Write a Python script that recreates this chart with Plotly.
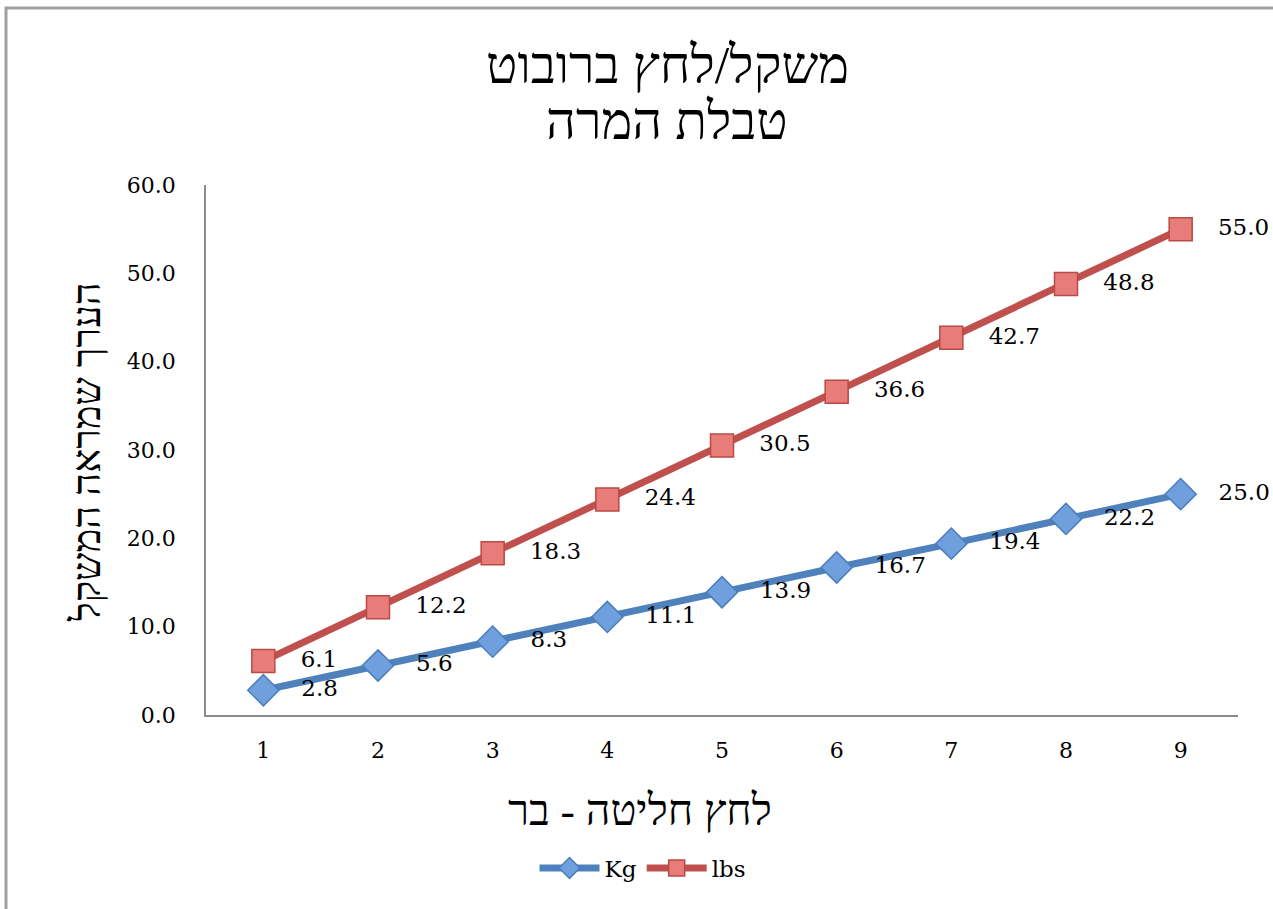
import plotly.graph_objects as go

categories = ["1", "2", "3", "4", "5", "6", "7", "8", "9"]
kg_values = [2.8, 5.6, 8.3, 11.1, 13.9, 16.7, 19.4, 22.2, 25.0]
lbs_values = [6.1, 12.2, 18.3, 24.4, 30.5, 36.6, 42.7, 48.8, 55.0]
y_ticks = [0, 10, 20, 30, 40, 50, 60]

title_line1 = "משקל/לחץ ברובוט"
title_line2 = "טבלת המרה"
x_title = "לחץ חליטה - בר"
y_title = "הערך שמראה המשקל"

NUM_FONT = "DejaVu Serif, Liberation Serif, serif"
HEB_FONT = "Liberation Serif, DejaVu Serif, serif"
W, H = 1273, 909
L, R, T, B = 206, 35, 185, 194
pw, ph = W - L - R, H - T - B

def px_x(x):
    return (x - L) / pw

def px_y(y):
    return (H - B - y) / ph

fig = go.Figure()
fig.add_trace(go.Scatter(
    x=categories, y=kg_values, name="Kg", mode="lines+markers+text",
    line=dict(color="#4F81BD", width=7),
    marker=dict(symbol="diamond", size=24, color="#6F9FDD",
                line=dict(color="#4A7EBB", width=1.5)),
    text=[f"   {v:.1f}" for v in kg_values], textposition="middle right",
    textfont=dict(family=NUM_FONT, size=23, color="#000000"),
    cliponaxis=False,
))
fig.add_trace(go.Scatter(
    x=categories, y=lbs_values, name="lbs", mode="lines+markers+text",
    line=dict(color="#C0504D", width=7),
    marker=dict(symbol="square", size=23, color="#E87C79",
                line=dict(color="#B84A47", width=1.5)),
    text=[f"   {v:.1f}" for v in lbs_values], textposition="middle right",
    textfont=dict(family=NUM_FONT, size=23, color="#000000"),
    cliponaxis=False,
))

fig.update_layout(
    width=W, height=H,
    margin=dict(l=L, r=R, t=T, b=B),
    paper_bgcolor="white", plot_bgcolor="white",
    font=dict(family=NUM_FONT, size=20, color="#000000"),
    showlegend=True,
    legend=dict(orientation="h", x=px_x(643), y=px_y(868), xanchor="center", yanchor="middle",
                font=dict(family=NUM_FONT, size=23), itemwidth=60, tracegroupgap=0),
    xaxis=dict(type="category", range=[-0.5, 8.5], showgrid=False, zeroline=False,
               showline=True, linecolor="#8C8C8C", linewidth=1.5,
               ticks="", ticklabelstandoff=15,
               tickfont=dict(family=NUM_FONT, size=22)),
    yaxis=dict(range=[0, 60], tickvals=y_ticks, tickformat=".1f", showgrid=False,
               zeroline=False, showline=True, linecolor="#8C8C8C", linewidth=1.5,
               ticks="", ticklabelstandoff=24,
               tickfont=dict(family=NUM_FONT, size=22)),
    annotations=[
        dict(text=title_line1, x=px_x(667), y=px_y(65), xref="paper", yref="paper",
             xanchor="center", yanchor="middle", showarrow=False,
             font=dict(family=HEB_FONT, size=52, color="#000000")),
        dict(text=title_line2, x=px_x(667), y=px_y(121), xref="paper", yref="paper",
             xanchor="center", yanchor="middle", showarrow=False,
             font=dict(family=HEB_FONT, size=52, color="#000000")),
        dict(text=x_title, x=px_x(640), y=px_y(810), xref="paper", yref="paper",
             xanchor="center", yanchor="middle", showarrow=False,
             font=dict(family=HEB_FONT, size=43, color="#000000")),
        dict(text=y_title, x=px_x(86), y=px_y(452), xref="paper", yref="paper",
             xanchor="center", yanchor="middle", showarrow=False, textangle=-90,
             font=dict(family=HEB_FONT, size=40, color="#000000")),
    ],
    shapes=[
        dict(type="rect", xref="paper", yref="paper",
             x0=px_x(6), x1=px_x(1290), y0=px_y(930), y1=px_y(8),
             line=dict(color="#A0A0A0", width=3), fillcolor="rgba(0,0,0,0)", layer="below"),
    ],
)

fig.write_html("out.html")
